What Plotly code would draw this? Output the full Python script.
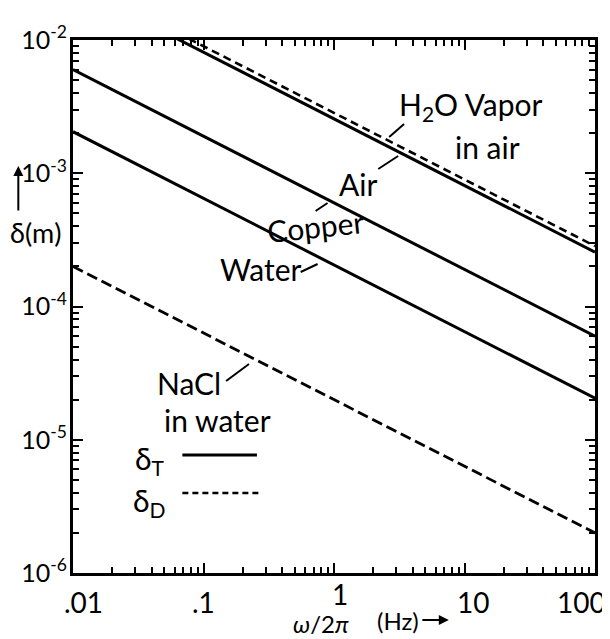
import math
import plotly.graph_objects as go

# ---- data (δ in metres at f = 0.01 Hz and 100 Hz) ----
freq_hz = [0.01, 100]
vapor_in_air = [2.84e-2, 2.84e-4]   # δ_D, dashed
air = [2.56e-2, 2.56e-4]            # δ_T
copper = [6.0e-3, 6.0e-5]           # δ_T
water = [2.05e-3, 2.05e-5]          # δ_T
nacl_in_water = [2.0e-4, 2.0e-6]    # δ_D, dashed

x_tick_vals = [0.01, 0.1, 1, 10, 100]
x_tick_text = [".01", ".1", "1", "10", "100"]
y_tick_vals = [1e-6, 1e-5, 1e-4, 1e-3, 1e-2]
y_tick_text = ["10<sup>-6</sup>", "10<sup>-5</sup>", "10<sup>-4</sup>", "10<sup>-3</sup>", "10<sup>-2</sup>"]

# ---- layout geometry (screen pixels of the 610x639 window) ----
OFF = 8                       # default page margin around the plot div
WIN_W, WIN_H = 610, 639
W, H = WIN_W - OFF, WIN_H - OFF
L, R, T, B = 73, 598, 40, 573   # plot area in screen pixels
def px(x):
    return (x - L) / (R - L)
def py(y):
    return (B - y) / (B - T)

FONT = "Lato"
BLACK = "black"

fig = go.Figure()
solid = dict(color=BLACK, width=3)
for name, ys, ln in [("H2O vapor in air", vapor_in_air, dict(color=BLACK, width=2.6, dash="8px,5px")),
                     ("Air", air, solid),
                     ("Copper", copper, solid),
                     ("Water", water, solid),
                     ("NaCl in water", nacl_in_water, dict(color=BLACK, width=2.8, dash="11px,5px"))]:
    fig.add_trace(go.Scatter(x=freq_hz, y=ys, mode="lines", line=ln, name=name,
                             showlegend=False, hoverinfo="skip"))

minor_x = [k * 10 ** n for n in range(-2, 3) for k in range(2, 10)]
minor_y = [k * 10 ** n for n in range(-6, -2) for k in range(2, 10)]

axis_common = dict(
    type="log", showline=True, linewidth=3, linecolor=BLACK, mirror="allticks",
    ticks="inside", ticklen=10, tickwidth=2, tickcolor=BLACK, showgrid=False,
    zeroline=False,
)
fig.update_xaxes(**axis_common, range=[-2, 2], tickmode="array", tickvals=x_tick_vals,
                 showticklabels=False,
                 minor=dict(tickmode="array", tickvals=minor_x, ticks="inside",
                            ticklen=6, tickwidth=2, tickcolor=BLACK, showgrid=False))
fig.update_yaxes(**axis_common, range=[-6, -2], tickmode="array", tickvals=y_tick_vals,
                 ticktext=y_tick_text, tickfont=dict(family=FONT, size=25, color=BLACK),
                 ticklabelstandoff=-2,
                 minor=dict(tickmode="array", tickvals=minor_y, ticks="inside",
                            ticklen=6, tickwidth=2, tickcolor=BLACK, showgrid=False))

ann = []
# x tick labels (placed under the axis ticks)
x_label_shift = [10, 0, 6, 8, -14]
x_label_y = [602, 602, 594, 602, 602]
for v, t, s, yy in zip(x_tick_vals, x_tick_text, x_label_shift, x_label_y):
    ann.append(dict(x=math.log10(v), xref="x", y=py(yy), yref="paper", text=t,
                    showarrow=False, xanchor="center", yanchor="middle", xshift=s,
                    font=dict(family=FONT, size=28, color=BLACK)))

def text(x, y, s, size=30, angle=0):
    ann.append(dict(x=px(x), y=py(y), xref="paper", yref="paper", text=s,
                    showarrow=False, xanchor="center", yanchor="middle",
                    textangle=angle, font=dict(family=FONT, size=size, color=BLACK)))

text(473, 106, "H<sub>2</sub>O Vapor")
text(490, 147, "in air")
text(360, 184, "Air")
text(317, 226, "Copper", angle=-6)
text(262, 269, "Water")
text(190, 383, "NaCl")
text(218, 420, "in water")
text(150, 460, "δ<sub>T</sub>")
text(150, 502, "δ<sub>D</sub>")
text(36, 232, "δ(m)", size=27)
text(322, 623, "<i>ω</i>/2<i>π</i>", size=24)
text(400, 620, "(Hz)", size=24)
# arrows
ann.append(dict(x=px(451), y=py(620), xref="paper", yref="paper", text="",
                showarrow=True, ax=-28, ay=0, axref="pixel", ayref="pixel",
                arrowhead=2, arrowsize=1, arrowwidth=2, arrowcolor=BLACK))
ann.append(dict(x=px(18), y=py(166), xref="paper", yref="paper", text="",
                showarrow=True, ax=0, ay=46, axref="pixel", ayref="pixel",
                arrowhead=2, arrowsize=1, arrowwidth=2, arrowcolor=BLACK))

shapes = []
def seg(x0, y0, x1, y1, w=2, dash=None):
    d = dict(type="line", xref="paper", yref="paper", x0=px(x0), y0=py(y0),
             x1=px(x1), y1=py(y1), line=dict(color=BLACK, width=w))
    if dash:
        d["line"]["dash"] = dash
    shapes.append(d)

# leader lines
seg(406, 124, 391, 137)
seg(380, 169, 400, 156)
seg(317, 211, 329, 203)
seg(302, 272, 319, 264)
seg(227, 381, 250, 364)
# legend samples
seg(183, 455, 258, 455, w=3)
seg(183, 493, 260, 493, w=2.5, dash="6px,4px")

fig.update_layout(
    width=W, height=H, autosize=False,
    margin=dict(l=L - OFF, r=WIN_W - R, t=T - OFF, b=WIN_H - B, pad=0),
    paper_bgcolor="white", plot_bgcolor="white",
    annotations=ann, shapes=shapes, showlegend=False,
    font=dict(family=FONT, color=BLACK),
)

fig.write_html("out.html")
